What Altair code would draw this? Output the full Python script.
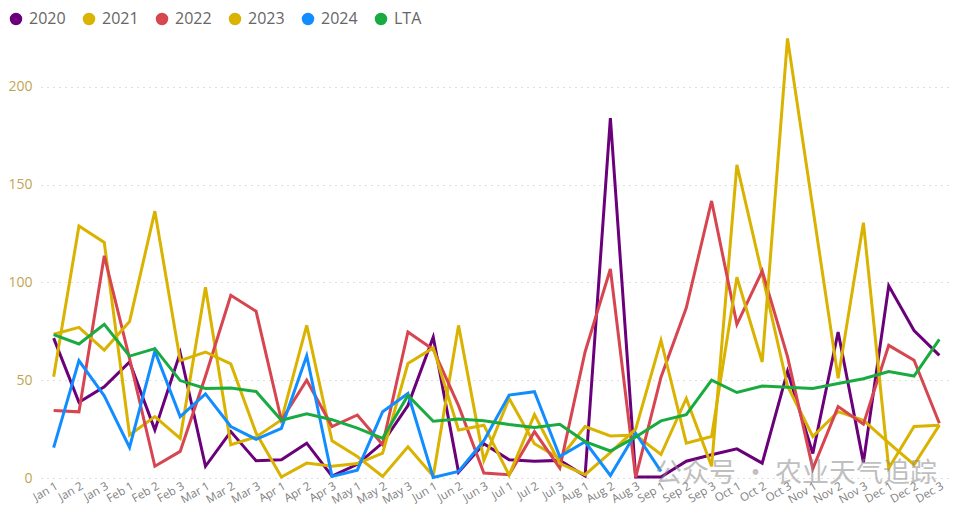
import altair as alt
import pandas as pd

dekads = ["Jan 1", "Jan 2", "Jan 3", "Feb 1", "Feb 2", "Feb 3", "Mar 1", "Mar 2", "Mar 3",
          "Apr 1", "Apr 2", "Apr 3", "May 1", "May 2", "May 3", "Jun 1", "Jun 2", "Jun 3",
          "Jul 1", "Jul 2", "Jul 3", "Aug 1", "Aug 2", "Aug 3", "Sep 1", "Sep 2", "Sep 3",
          "Oct 1", "Oct 2", "Oct 3", "Nov 1", "Nov 2", "Nov 3", "Dec 1", "Dec 2", "Dec 3"]

y2020 = [71.5, 38.7, 46.6, 59.3, 24.6, 64.0, 6.0, 23.7, 8.8, 9.3, 17.8, 1.0,
         7.0, 18.0, 37.0, 72.0, 3.0, 17.5, 9.3, 8.5, 9.0, 1.0, 184.0, 0.5,
         0.5, 8.6, 11.9, 14.9, 7.6, 54.5, 12.5, 74.6, 8.0, 98.2, 75.4, 62.7]
y2021 = [51.7, 128.8, 120.4, 22.0, 31.4, 20.3, 97.5, 17.0, 21.0, 29.7, 78.0, 19.0,
         11.0, 0.8, 16.0, 1.0, 78.0, 9.0, 40.7, 17.5, 10.0, 26.3, 21.5, 22.0,
         12.0, 40.7, 6.0, 160.0, 104.0, 47.0, 21.2, 33.9, 29.5, 18.0, 6.8, 27.0]
y2022 = [34.5, 33.8, 113.6, 61.0, 6.0, 13.6, 52.0, 93.4, 85.2, 29.5, 50.0, 26.3,
         32.2, 17.0, 74.6, 65.7, 37.0, 2.5, 1.7, 23.7, 5.1, 64.4, 106.8, 0.3,
         51.5, 87.0, 141.6, 78.5, 105.8, 62.0, 4.7, 36.5, 27.5, 67.8, 60.2, 28.0]
y2023 = [73.5, 77.0, 65.4, 80.0, 136.4, 60.0, 64.4, 58.3, 23.0, 0.5, 7.6, 6.0,
         7.4, 12.7, 58.5, 66.5, 24.5, 27.0, 1.5, 32.4, 7.5, 1.7, 13.0, 25.0,
         70.4, 17.8, 21.2, 102.6, 59.3, 224.7, 138.0, 51.0, 130.5, 5.0, 26.3, 27.0]
y2024 = [15.5, 60.0, 42.0, 15.6, 64.8, 31.4, 43.0, 26.3, 19.8, 25.4, 62.5, 0.8,
         4.0, 33.9, 43.2, 0.3, 3.4, 19.0, 42.4, 44.1, 11.0, 18.5, 1.3, 22.9,
         3.4]
lta = [73.3, 68.5, 78.5, 62.3, 66.1, 49.8, 45.8, 46.0, 44.2, 29.5, 32.8, 29.8,
       25.5, 20.3, 42.2, 29.0, 30.2, 29.3, 27.3, 25.8, 27.5, 18.6, 13.8, 21.0,
       29.2, 32.4, 50.0, 43.7, 47.0, 46.4, 45.8, 48.3, 50.7, 54.4, 52.1, 70.9]

series = ["2020", "2021", "2022", "2023", "2024", "LTA"]
colors = ["#6B007B", "#D9B300", "#D64550", "#D9B300", "#118DFF", "#1AAB40"]
y_ticks = [0, 50, 100, 150, 200]
watermark = "公众号 · 农业天气追踪"

rows = []
for name, vals in zip(series, [y2020, y2021, y2022, y2023, y2024, lta]):
    for d, v in zip(dekads, vals):
        rows.append({"dekad": d, "series": name, "value": v})
df = pd.DataFrame(rows)

FONT = "Open Sans"

lines = alt.Chart(df).mark_line(strokeWidth=3).encode(
    x=alt.X("dekad:N", sort=dekads,
            scale=alt.Scale(type="point", padding=0.5),
            axis=alt.Axis(title=None, labelAngle=-30, labelAlign="right",
                          labelBaseline="top", labelColor="#808080",
                          labelFontSize=11.5, labelFont=FONT, ticks=False,
                          domain=False, grid=False, labelPadding=2)),
    y=alt.Y("value:Q", scale=alt.Scale(domain=[0, 230], nice=False),
            axis=alt.Axis(title=None, values=y_ticks, grid=True,
                          gridDash=[1, 5], gridColor="#BDBDBD", gridWidth=1,
                          domain=False, ticks=False, labelColor="#BFA552",
                          labelFontSize=14, labelFont=FONT, labelPadding=9)),
    color=alt.Color("series:N", scale=alt.Scale(domain=series, range=colors),
                    legend=alt.Legend(
                        orient="none", legendX=-33, legendY=-17,
                        direction="horizontal", title=None,
                        symbolType="circle", symbolSize=36,
                        symbolStrokeWidth=6.5, symbolOpacity=1,
                        labelFontSize=16, labelFont=FONT,
                        labelColor="#666666", labelOffset=5)),
    detail="series:N",
)

wm = alt.Chart(pd.DataFrame({"t": [watermark]})).mark_text(
    font="Noto Sans CJK SC", fontSize=27, color="#8C8C8C", opacity=0.55,
    align="center", baseline="middle"
).encode(text="t:N", x=alt.value(755), y=alt.value(446))

chart = alt.layer(lines, wm).properties(
    width=911, height=450,
    autosize=alt.AutoSizeParams(type="none"),
    padding={"left": 33, "top": 20, "right": 0, "bottom": 30},
).configure_view(stroke=None).configure_legend(columnPadding=7)

chart.save("out.html", embed_options={"renderer": "svg", "actions": False})
